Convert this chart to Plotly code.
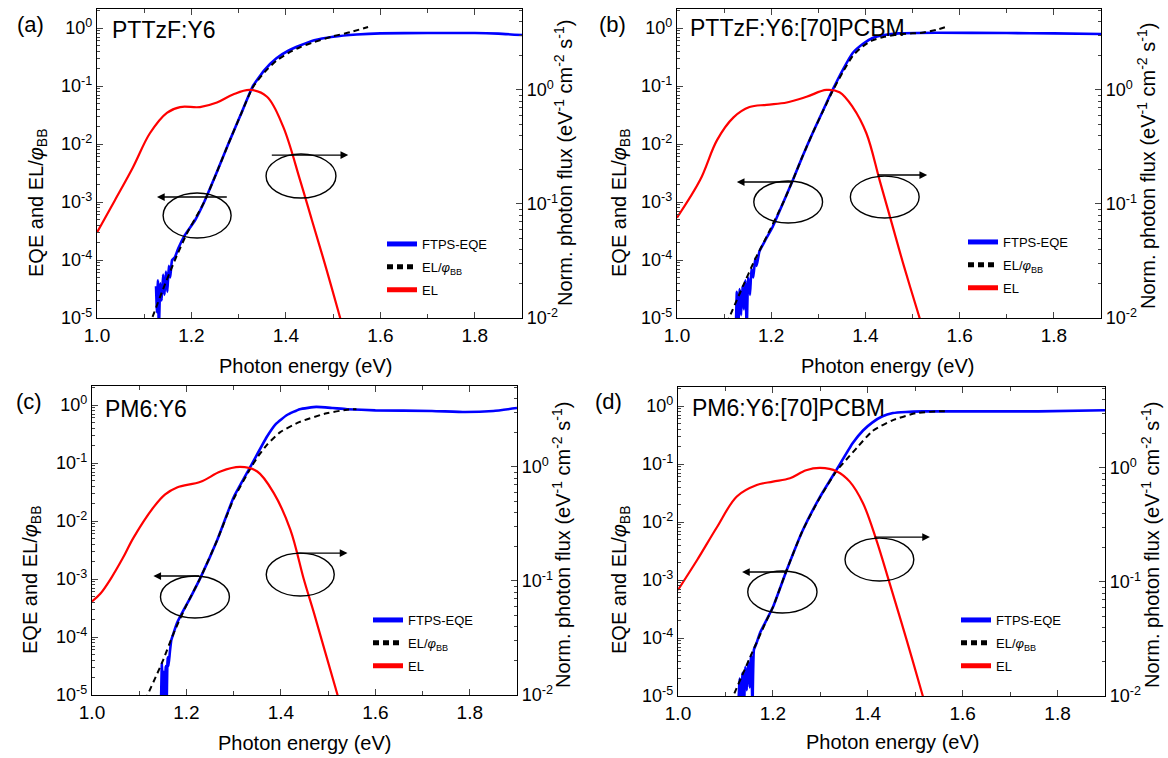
import plotly.graph_objects as go

W, H = 1168, 758

# ---------------- data ----------------
# Panel (a) PTTzF:Y6
a_eqe_E = [1.125, 1.127, 1.129, 1.131, 1.134, 1.137, 1.140, 1.143, 1.146, 1.149, 1.152, 1.155, 1.159,
           1.165, 1.172, 1.186, 1.208, 1.227, 1.253, 1.278, 1.304, 1.330, 1.355, 1.380, 1.405, 1.430,
           1.460, 1.500, 1.550, 1.600, 1.700, 1.800, 1.850, 1.900]
a_eqe = [3.55e-5, 1.26e-5, 4.47e-5, 6.3e-6, 3.98e-5, 2.0e-5, 5.62e-5, 2.51e-5, 6.31e-5, 2.82e-5, 7.94e-5,
         5.01e-5, 1.0e-4, 1.12e-4, 1.58e-4, 2.69e-4, 4.9e-4, 1.0e-3, 3.16e-3, 1.0e-2, 3.16e-2, 0.1, 0.191,
         0.302, 0.407, 0.501, 0.617, 0.708, 0.776, 0.813, 0.822, 0.822, 0.804, 0.759]
a_elbb_E = [1.110, 1.140, 1.165, 1.190, 1.227, 1.253, 1.278, 1.304, 1.330, 1.355, 1.380, 1.405, 1.430,
            1.460, 1.500, 1.536, 1.574]
a_elbb = [7.1e-6, 3.16e-5, 1.0e-4, 2.82e-4, 1.0e-3, 3.16e-3, 1.0e-2, 3.16e-2, 0.0955, 0.174, 0.275, 0.372,
          0.468, 0.575, 0.724, 0.851, 1.047]
a_el_E = [1.000, 1.038, 1.076, 1.112, 1.148, 1.176, 1.218, 1.254, 1.288, 1.324, 1.360, 1.394, 1.430,
          1.455, 1.485, 1.515, 1.530]
a_el = [0.0562, 0.108, 0.209, 0.417, 0.631, 0.708, 0.708, 0.776, 0.912, 1.0, 0.871, 0.479, 0.162,
        0.0724, 0.0275, 0.01, 0.006]

# Panel (b) PTTzF:Y6:[70]PCBM
b_eqe_E = [1.125, 1.127, 1.130, 1.133, 1.136, 1.139, 1.142, 1.145, 1.148, 1.151, 1.155, 1.158, 1.162,
           1.166, 1.169, 1.175, 1.188, 1.203, 1.226, 1.246, 1.267, 1.288, 1.310, 1.330, 1.352, 1.373,
           1.395, 1.415, 1.440, 1.470, 1.550, 1.700, 1.800, 1.900]
b_eqe = [6.3e-6, 2.82e-5, 6.3e-6, 3.16e-5, 1.12e-5, 3.55e-5, 1.41e-5, 4.47e-5, 6.3e-6, 5.01e-5, 2.51e-5,
         7.08e-5, 5.01e-5, 1.07e-4, 7.94e-5, 1.41e-4, 2.24e-4, 3.72e-4, 1.0e-3, 2.4e-3, 6.31e-3, 1.55e-2,
         3.8e-2, 8.51e-2, 0.191, 0.372, 0.537, 0.676, 0.759, 0.813, 0.832, 0.822, 0.813, 0.794]
b_elbb_E = [1.105, 1.140, 1.165, 1.190, 1.226, 1.246, 1.267, 1.288, 1.310, 1.330, 1.352, 1.373, 1.395,
            1.415, 1.440, 1.470, 1.500, 1.520, 1.550, 1.574]
b_elbb = [7.94e-6, 3.55e-5, 1.0e-4, 2.51e-4, 1.0e-3, 2.4e-3, 6.31e-3, 1.55e-2, 3.72e-2, 8.13e-2, 0.174,
          0.331, 0.49, 0.617, 0.708, 0.776, 0.813, 0.832, 0.933, 1.072]
b_el_E = [1.000, 1.049, 1.085, 1.120, 1.154, 1.190, 1.233, 1.275, 1.317, 1.345, 1.373, 1.402, 1.430,
          1.456, 1.482, 1.515, 1.530]
b_el = [0.0759, 0.162, 0.363, 0.575, 0.708, 0.741, 0.776, 0.871, 1.0, 0.955, 0.708, 0.417, 0.162,
        0.0676, 0.0282, 0.01, 0.0063]

# Panel (c) PM6:Y6
c_eqe_E = [1.146, 1.148, 1.150, 1.152, 1.154, 1.156, 1.158, 1.160, 1.162, 1.165, 1.168, 1.172, 1.180,
           1.195, 1.209, 1.230, 1.265, 1.300, 1.335, 1.370, 1.390, 1.413, 1.440, 1.475, 1.510, 1.540,
           1.600, 1.720, 1.790, 1.850, 1.900]
c_eqe = [6.3e-6, 3.55e-5, 6.3e-6, 2.51e-5, 6.3e-6, 3.16e-5, 6.3e-6, 4.47e-5, 3.16e-5, 5.62e-5, 8.91e-5,
         1.12e-4, 1.74e-4, 3.02e-4, 4.9e-4, 1.07e-3, 4.68e-3, 2.57e-2, 8.51e-2, 0.282, 0.479, 0.676,
         0.851, 0.933, 0.891, 0.851, 0.813, 0.794, 0.759, 0.794, 0.891]
c_elbb_E = [1.112, 1.149, 1.173, 1.200, 1.230, 1.265, 1.300, 1.335, 1.352, 1.370, 1.398, 1.440, 1.497,
            1.540, 1.560]
c_elbb = [7.94e-6, 3.72e-5, 1.17e-4, 3.55e-4, 1.07e-3, 4.68e-3, 2.4e-2, 7.94e-2, 0.132, 0.204, 0.339,
          0.513, 0.724, 0.832, 0.851]
c_el_E = [1.000, 1.018, 1.040, 1.065, 1.088, 1.131, 1.155, 1.180, 1.230, 1.272, 1.314, 1.350, 1.385,
          1.420, 1.449, 1.470, 1.520, 1.535]
c_el = [0.0661, 0.0776, 0.105, 0.158, 0.24, 0.447, 0.575, 0.661, 0.741, 0.912, 1.0, 0.912, 0.589,
        0.282, 0.102, 0.0525, 0.01, 0.0063]

# Panel (d) PM6:Y6:[70]PCBM
d_eqe_E = [1.127, 1.130, 1.133, 1.136, 1.139, 1.142, 1.145, 1.148, 1.151, 1.154, 1.157, 1.160, 1.165,
           1.173, 1.200, 1.229, 1.263, 1.299, 1.334, 1.368, 1.390, 1.410, 1.430, 1.453, 1.480, 1.516,
           1.760, 1.900]
d_eqe = [6.3e-6, 2.0e-5, 6.3e-6, 2.51e-5, 6.3e-6, 3.16e-5, 1.26e-5, 3.98e-5, 1.41e-5, 5.01e-5, 6.3e-6,
         6.31e-5, 7.94e-5, 1.23e-4, 3.39e-4, 1.48e-3, 7.24e-3, 2.69e-2, 7.94e-2, 0.229, 0.38, 0.525,
         0.661, 0.759, 0.794, 0.813, 0.813, 0.851]
d_elbb_E = [1.110, 1.152, 1.187, 1.200, 1.229, 1.263, 1.299, 1.334, 1.355, 1.377, 1.410, 1.453, 1.503,
            1.550, 1.570]
d_elbb = [7.59e-6, 4.68e-5, 2.04e-4, 3.39e-4, 1.48e-3, 7.24e-3, 2.63e-2, 7.59e-2, 0.12, 0.191, 0.372,
          0.575, 0.759, 0.813, 0.813]
d_el_E = [1.000, 1.040, 1.082, 1.124, 1.166, 1.200, 1.236, 1.270, 1.300, 1.335, 1.362, 1.390, 1.418,
          1.446, 1.482, 1.516, 1.530]
d_el = [0.0851, 0.155, 0.302, 0.562, 0.708, 0.759, 0.813, 0.955, 1.0, 0.933, 0.759, 0.49, 0.234,
        0.0977, 0.0309, 0.01, 0.0063]

# tick labels
x_tickvals = [1.0, 1.2, 1.4, 1.6, 1.8]
x_ticktext = ["1.0", "1.2", "1.4", "1.6", "1.8"]
x_minorvals = [1.1, 1.3, 1.5, 1.7]
yl_tickvals = [1e-5, 1e-4, 1e-3, 1e-2, 1e-1, 1e0]
yl_ticktext = ["10<sup>-5</sup>", "10<sup>-4</sup>", "10<sup>-3</sup>", "10<sup>-2</sup>",
               "10<sup>-1</sup>", "10<sup>0</sup>"]
yr_tickvals = [1e-2, 1e-1, 1e0]
yr_ticktext = ["10<sup>-2</sup>", "10<sup>-1</sup>", "10<sup>0</sup>"]

sample_names = ["PTTzF:Y6", "PTTzF:Y6:[70]PCBM", "PM6:Y6", "PM6:Y6:[70]PCBM"]
panel_labels = ["(a)", "(b)", "(c)", "(d)"]
legend_names = ["FTPS-EQE", "EL/<i>φ</i><sub>BB</sub>", "EL"]
x_title = "Photon energy (eV)"
yl_title = "EQE and EL/<i>φ</i><sub>BB</sub>"
yr_title = "Norm. photon flux (eV<sup>-1</sup> cm<sup>-2</sup> s<sup>-1</sup>)"

# ---------------- layout geometry (pixels in the 1168x758 canvas) ----------------
def px(x):
    return x / W

def py(y):
    return 1 - y / H

geom = [
    dict(x0=97, x1=522, y0=9, y1=318, lab=(30, 24), name=(110, 30), leg=(382, 229),
         xt=(305, 366), ylt=(37, 203), yrt=(564, 163)),
    dict(x0=677, x1=1101, y0=9, y1=318, lab=(612, 24), name=(688, 28), leg=(963, 227),
         xt=(887, 366), ylt=(620, 203), yrt=(1147, 166)),
    dict(x0=92, x1=517, y0=386, y1=695, lab=(29, 401), name=(103, 409), leg=(368, 605),
         xt=(304, 743), ylt=(31, 580), yrt=(561, 545)),
    dict(x0=678, x1=1105, y0=387, y1=696, lab=(609, 401), name=(690, 408), leg=(956, 605),
         xt=(892, 742), ylt=(620, 580), yrt=(1150, 545)),
]

# ellipses (E0, E1, log y0, log y1) and arrows (tail E, head E, log y) on left axis
decor = [
    dict(ell=[(1.140, 1.284, -3.621, -2.845), (1.358, 1.506, -2.931, -2.172)],
         arr=[(1.278, 1.127, -2.914), (1.367, 1.532, -2.19)]),
    dict(ell=[(1.163, 1.309, -3.362, -2.638), (1.368, 1.514, -3.276, -2.552)],
         arr=[(1.245, 1.127, -2.655), (1.423, 1.531, -2.534)]),
    dict(ell=[(1.145, 1.291, -3.672, -2.948), (1.369, 1.513, -3.293, -2.552)],
         arr=[(1.230, 1.130, -2.948), (1.431, 1.541, -2.552)]),
    dict(ell=[(1.147, 1.293, -3.569, -2.845), (1.352, 1.497, -3.017, -2.276)],
         arr=[(1.232, 1.135, -2.862), (1.411, 1.531, -2.259)]),
]

series = [
    (a_eqe_E, a_eqe, a_elbb_E, a_elbb, a_el_E, a_el),
    (b_eqe_E, b_eqe, b_elbb_E, b_elbb, b_el_E, b_el),
    (c_eqe_E, c_eqe, c_elbb_E, c_elbb, c_el_E, c_el),
    (d_eqe_E, d_eqe, d_elbb_E, d_elbb, d_el_E, d_el),
]

FONT = "Liberation Sans, Arial, sans-serif"
TICK = 18
fig = go.Figure()
layout = dict(width=W, height=H, margin=dict(l=0, r=0, t=0, b=0), paper_bgcolor="white",
              plot_bgcolor="white", font=dict(family=FONT, color="black"), showlegend=True)
annotations = []
shapes = []

dec_minor = []
for e in range(-5, 1):
    for m in range(2, 10):
        dec_minor.append(m * 10 ** e)

def txt(text, pos, size, anchor="center", angle=0):
    return dict(text=text, x=px(pos[0]), y=py(pos[1]), xref="paper", yref="paper",
                showarrow=False, xanchor=anchor, yanchor="middle", textangle=angle,
                font=dict(size=size))

for i in range(4):
    g = geom[i]
    xid = "x" if i == 0 else f"x{i + 1}"
    yl = "y" if i == 0 else f"y{2 * i + 1}"
    yr = f"y{2 * i + 2}"
    leg = "legend" if i == 0 else f"legend{i + 1}"
    eqeE, eqe, bbE, bb, elE, el = series[i]

    fig.add_trace(go.Scatter(x=eqeE, y=eqe, mode="lines", name=legend_names[0],
                             line=dict(color="#0000ff", width=2.6, shape="spline", smoothing=0.4),
                             xaxis=xid, yaxis=yl, legend=leg, legendgroup=f"g{i}a"))
    fig.add_trace(go.Scatter(x=bbE, y=bb, mode="lines", name=legend_names[1],
                             line=dict(color="black", width=2, dash="6px,4px", shape="spline", smoothing=0.6),
                             xaxis=xid, yaxis=yl, legend=leg, legendgroup=f"g{i}b"))
    fig.add_trace(go.Scatter(x=elE, y=el, mode="lines", name=legend_names[2],
                             line=dict(color="#ff0000", width=2.2, shape="spline", smoothing=1.0),
                             xaxis=xid, yaxis=yr, legend=leg, legendgroup=f"g{i}c"))

    xkey = "xaxis" if i == 0 else f"xaxis{i + 1}"
    ylkey = "yaxis" if i == 0 else f"yaxis{2 * i + 1}"
    yrkey = f"yaxis{2 * i + 2}"

    layout[xkey] = dict(domain=[px(g["x0"]), px(g["x1"])], anchor=yl, range=[1.0, 1.9],
                        tickvals=x_tickvals, ticktext=x_ticktext, ticks="inside", ticklen=6,
                        tickwidth=1.2, showline=True, linecolor="black", linewidth=1.3, mirror="ticks",
                        showgrid=False, zeroline=False, tickfont=dict(size=19),
                        minor=dict(tickvals=x_minorvals, ticks="inside", ticklen=4, tickwidth=1.2,
                                   showgrid=False),
                        automargin=False)
    layout[ylkey] = dict(domain=[py(g["y1"]), py(g["y0"])], anchor=xid, type="log", range=[-5, 0.33],
                         tickvals=yl_tickvals, ticktext=yl_ticktext, ticks="inside", ticklen=6,
                         tickwidth=1.2, showline=True, linecolor="black", linewidth=1.3,
                         showgrid=False, zeroline=False, tickfont=dict(size=TICK),
                         minor=dict(tickvals=dec_minor, ticks="inside", ticklen=3, tickwidth=1,
                                    showgrid=False),
                         automargin=False)
    layout[yrkey] = dict(domain=[py(g["y1"]), py(g["y0"])], anchor=xid, overlaying=yl, side="right",
                         type="log", range=[-2, 0.71],
                         tickvals=yr_tickvals, ticktext=yr_ticktext, ticks="inside", ticklen=6,
                         tickwidth=1.2, showline=True, linecolor="black", linewidth=1.3,
                         showgrid=False, zeroline=False, tickfont=dict(size=TICK),
                         minor=dict(tickvals=[v for v in dec_minor if 0.01 < v < 5.2], ticks="inside",
                                    ticklen=3, tickwidth=1, showgrid=False),
                         automargin=False)
    layout[leg] = dict(x=px(g["leg"][0]), y=py(g["leg"][1]), xanchor="left", yanchor="top",
                       bgcolor="rgba(0,0,0,0)", font=dict(size=13), tracegroupgap=3,
                       itemsizing="constant")

    annotations.append(txt(panel_labels[i], g["lab"], 22))
    annotations.append(txt(sample_names[i], g["name"], 23, anchor="left"))
    annotations.append(txt(x_title, g["xt"], 20))
    annotations.append(txt(yl_title, g["ylt"], 20, angle=-90))
    annotations.append(txt(yr_title, g["yrt"], 20, angle=-90))

    for (e0, e1, l0, l1) in decor[i]["ell"]:
        shapes.append(dict(type="circle", xref=xid, yref=yl, x0=e0, x1=e1, y0=10 ** l0, y1=10 ** l1,
                           line=dict(color="black", width=1.4)))
    for (tail, head, ly) in decor[i]["arr"]:
        annotations.append(dict(x=head, y=ly, ax=tail, ay=ly, xref=xid, yref=yl, axref=xid, ayref=yl,
                                text="", showarrow=True, arrowhead=2, arrowsize=1.1, arrowwidth=1.4,
                                arrowcolor="black", standoff=0, startstandoff=0))

layout["annotations"] = annotations
layout["shapes"] = shapes
fig.update_layout(**layout)
fig.write_html("out.html", config={"displayModeBar": False},
               post_script="document.body.style.margin='0px';")
